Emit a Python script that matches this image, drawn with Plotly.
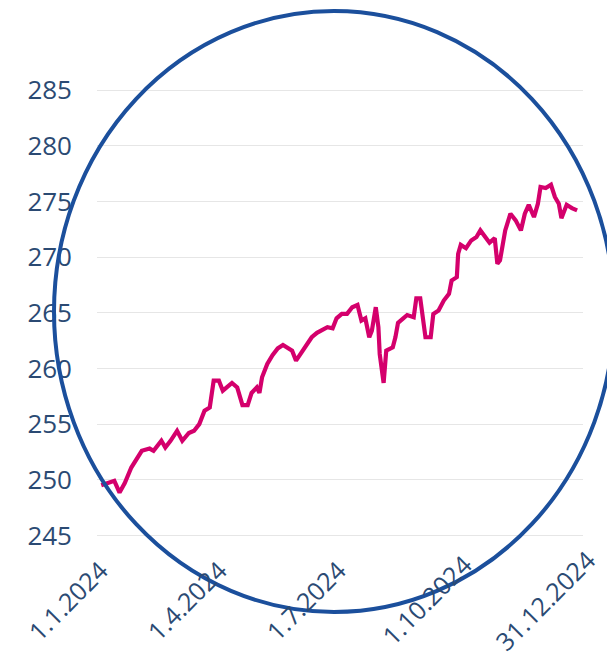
import plotly.graph_objects as go

dates = [
    "2024-01-02", "2024-01-07", "2024-01-12", "2024-01-16", "2024-01-20", "2024-01-25",
    "2024-01-30", "2024-02-02", "2024-02-08", "2024-02-11", "2024-02-17", "2024-02-20",
    "2024-02-24", "2024-02-29", "2024-03-04", "2024-03-09", "2024-03-13", "2024-03-17",
    "2024-03-21", "2024-03-25", "2024-03-28", "2024-04-01", "2024-04-04", "2024-04-07",
    "2024-04-11", "2024-04-15", "2024-04-19", "2024-04-23", "2024-04-26", "2024-04-30",
    "2024-05-02", "2024-05-04", "2024-05-08", "2024-05-12", "2024-05-16", "2024-05-20",
    "2024-05-24", "2024-05-27", "2024-05-30", "2024-06-03", "2024-06-07", "2024-06-11",
    "2024-06-15", "2024-06-19", "2024-06-23", "2024-06-27", "2024-06-30", "2024-07-04",
    "2024-07-08", "2024-07-12", "2024-07-16", "2024-07-19", "2024-07-22", "2024-07-25",
    "2024-07-27", "2024-07-30", "2024-08-01", "2024-08-02", "2024-08-05", "2024-08-07",
    "2024-08-12", "2024-08-14", "2024-08-16", "2024-08-20", "2024-08-23", "2024-08-28",
    "2024-08-30", "2024-09-02", "2024-09-06", "2024-09-10", "2024-09-12", "2024-09-16",
    "2024-09-20", "2024-09-24", "2024-09-26", "2024-09-30", "2024-10-01", "2024-10-03",
    "2024-10-07", "2024-10-11", "2024-10-15", "2024-10-18", "2024-10-22", "2024-10-25",
    "2024-10-29", "2024-10-31", "2024-11-02", "2024-11-06", "2024-11-10", "2024-11-14",
    "2024-11-18", "2024-11-21", "2024-11-24", "2024-11-28", "2024-12-01", "2024-12-03",
    "2024-12-07", "2024-12-11", "2024-12-14", "2024-12-17", "2024-12-19", "2024-12-23",
    "2024-12-27", "2024-12-31",
]
values = [
    249.5, 249.7, 249.9, 248.85, 249.7, 251.1,
    252.0, 252.6, 252.8, 252.6, 253.5, 252.9,
    253.5, 254.4, 253.5, 254.2, 254.4, 255.0,
    256.2, 256.5, 258.9, 258.9, 258.0, 258.3,
    258.7, 258.3, 256.7, 256.7, 257.8, 258.3,
    257.8, 259.2, 260.4, 261.2, 261.8, 262.1,
    261.8, 261.6, 260.7, 261.4, 262.1, 262.8,
    263.2, 263.4, 263.7, 263.6, 264.5, 264.9,
    264.9, 265.5, 265.7, 264.3, 264.5, 262.8,
    263.4, 265.5, 263.7, 261.3, 258.7, 261.6,
    261.9, 262.8, 264.1, 264.5, 264.8, 264.6,
    266.3, 266.3, 262.8, 262.8, 264.9, 265.2,
    266.1, 266.7, 267.9, 268.2, 270.3, 271.1,
    270.8, 271.5, 271.8, 272.4, 271.8, 271.3,
    271.7, 269.4, 269.7, 272.4, 273.9, 273.3,
    272.4, 273.9, 274.7, 273.6, 274.8, 276.3,
    276.2, 276.5, 275.4, 274.8, 273.5, 274.7,
    274.4, 274.2,
]

y_ticks = [245, 250, 255, 260, 265, 270, 275, 280, 285]
x_tick_vals = ["2024-01-01", "2024-04-01", "2024-07-01", "2024-10-01", "2024-12-31"]
x_tick_text = ["1.1.2024", "1.4.2024", "1.7.2024", "1.10.2024", "31.12.2024"]

LINE_COLOR = "#d4006c"
RING_COLOR = "#1b4f9c"
TEXT_COLOR = "#2b4a73"

# page body has an 8px default margin; lay out the figure so it fills the window
OFF = 8
W, H = 615 - OFF, 657 - OFF
PLOT_L, PLOT_R, PLOT_T, PLOT_B = 97, 583, 79, 541  # page pixels
ML, MR = PLOT_L - OFF, W - (PLOT_R - OFF)
MT, MB = PLOT_T - OFF, H - (PLOT_B - OFF)
pw, ph = W - ML - MR, H - MT - MB

def px_to_paper_x(px):
    return (px - PLOT_L) / pw

def px_to_paper_y(py):
    return (PLOT_B - py) / ph

fig = go.Figure()
fig.add_trace(go.Scatter(
    x=dates, y=values, mode="lines",
    line=dict(color=LINE_COLOR, width=4.2, shape="linear"),
    hoverinfo="skip", showlegend=False,
))

fig.add_shape(
    type="circle", xref="paper", yref="paper",
    x0=px_to_paper_x(54), x1=px_to_paper_x(614),
    y0=px_to_paper_y(612), y1=px_to_paper_y(11),
    line=dict(color=RING_COLOR, width=4), layer="above",
)

for tv, tt in zip(x_tick_vals, x_tick_text):
    fig.add_annotation(
        x=tv, xref="x", y=px_to_paper_y(600), yref="paper",
        text=tt, showarrow=False, textangle=-45,
        xanchor="center", yanchor="middle", xshift=-32,
        font=dict(family="Open Sans", size=25, color=TEXT_COLOR),
    )

fig.update_layout(
    width=W, height=H,
    margin=dict(l=ML, r=MR, t=MT, b=MB, autoexpand=False),
    paper_bgcolor="white", plot_bgcolor="white",
    font=dict(family="Open Sans", size=25, color=TEXT_COLOR),
    showlegend=False,
    xaxis=dict(
        type="date", automargin=False,
        range=["2023-12-29 18:00", "2025-01-04 12:00"],
        tickvals=x_tick_vals, showticklabels=False,
        showgrid=False, zeroline=False, showline=False, ticks="",
    ),
    yaxis=dict(
        automargin=False,
        range=[244.5, 286],
        tickvals=y_ticks,
        showgrid=True, gridcolor="#e6e6e6", gridwidth=1,
        zeroline=False, showline=False, ticks="",
        ticklabelstandoff=24,
        tickfont=dict(family="Open Sans", size=26, color=TEXT_COLOR),
    ),
)

fig.write_html("out.html")
